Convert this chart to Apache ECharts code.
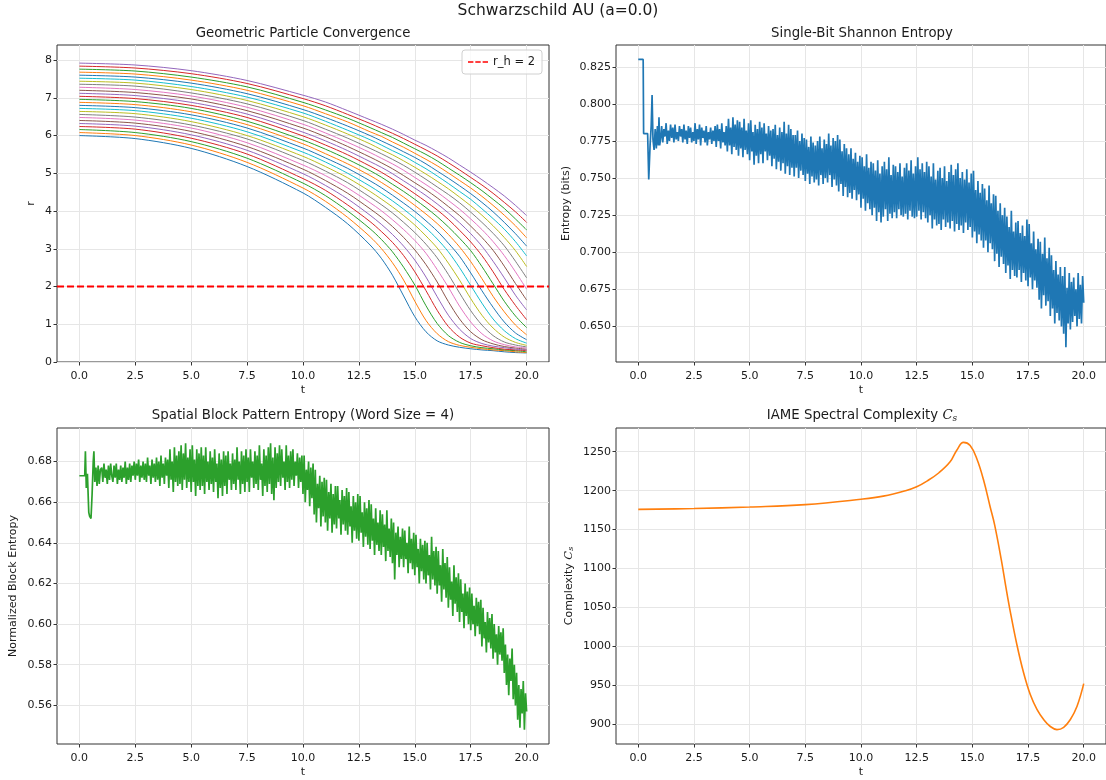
<!DOCTYPE html>
<html>
<head>
<meta charset="utf-8">
<title>Schwarzschild AU (a=0.0)</title>
<script src="https://cdn.jsdelivr.net/npm/echarts@6/dist/echarts.min.js"></script>
<style>
html, body { margin: 0; padding: 0; background: #fff; }
#main { width: 1106px; height: 780px; }
</style>
</head>
<body>
<div id="main"></div>
<script>
//////////// data ////////////
// sample times of the particle curves
var tGrid = [0, 2.5, 5, 7.5, 10, 11, 12, 13, 13.5, 14, 14.5, 15, 15.5, 16, 16.5, 17, 17.5, 18, 18.5, 19, 19.5, 20];

// r(t) for the 25 particles (r0 = 6.00 .. 7.92)
var particleR = [
	[6.00,5.92,5.66,5.18,4.48,4.10,3.66,3.10,2.75,2.30,1.75,1.20,0.80,0.56,0.45,0.39,0.35,0.32,0.30,0.27,0.25,0.24],
	[6.08,6.00,5.75,5.29,4.61,4.26,3.83,3.32,3.01,2.63,2.17,1.61,1.10,0.75,0.54,0.44,0.39,0.35,0.32,0.30,0.27,0.25],
	[6.16,6.08,5.84,5.40,4.74,4.41,4.00,3.53,3.25,2.92,2.51,2.04,1.49,1.02,0.70,0.52,0.43,0.38,0.35,0.32,0.30,0.27],
	[6.24,6.17,5.93,5.51,4.86,4.55,4.16,3.72,3.46,3.17,2.82,2.39,1.89,1.37,0.94,0.66,0.50,0.43,0.38,0.34,0.32,0.30],
	[6.32,6.25,6.02,5.61,4.99,4.68,4.32,3.89,3.65,3.38,3.07,2.70,2.25,1.73,1.24,0.87,0.62,0.49,0.42,0.38,0.34,0.32],
	[6.40,6.33,6.11,5.71,5.11,4.81,4.47,4.06,3.84,3.59,3.30,2.97,2.58,2.12,1.60,1.14,0.80,0.59,0.48,0.41,0.37,0.34],
	[6.48,6.41,6.20,5.81,5.22,4.94,4.61,4.22,4.01,3.77,3.51,3.22,2.88,2.45,1.98,1.48,1.06,0.75,0.56,0.46,0.40,0.37],
	[6.56,6.49,6.28,5.91,5.34,5.06,4.75,4.37,4.17,3.95,3.70,3.43,3.12,2.76,2.32,1.83,1.36,0.98,0.70,0.53,0.45,0.40],
	[6.64,6.58,6.37,6.00,5.45,5.18,4.88,4.52,4.32,4.11,3.88,3.63,3.34,3.02,2.62,2.17,1.68,1.24,0.90,0.66,0.52,0.44],
	[6.72,6.66,6.46,6.10,5.56,5.30,5.00,4.66,4.47,4.27,4.05,3.81,3.55,3.26,2.92,2.50,2.03,1.56,1.14,0.83,0.62,0.50],
	[6.80,6.74,6.55,6.20,5.67,5.41,5.13,4.80,4.62,4.42,4.21,3.99,3.74,3.47,3.15,2.80,2.36,1.89,1.45,1.06,0.77,0.59],
	[6.88,6.82,6.63,6.29,5.78,5.52,5.25,4.94,4.76,4.57,4.37,4.15,3.92,3.67,3.38,3.05,2.66,2.21,1.74,1.33,0.98,0.72],
	[6.96,6.90,6.72,6.38,5.88,5.64,5.37,5.07,4.90,4.71,4.52,4.31,4.09,3.85,3.58,3.28,2.95,2.53,2.07,1.61,1.22,0.91],
	[7.04,6.98,6.80,6.48,5.99,5.75,5.49,5.19,5.03,4.85,4.66,4.46,4.25,4.03,3.78,3.49,3.18,2.82,2.39,1.92,1.50,1.12],
	[7.12,7.06,6.88,6.57,6.09,5.86,5.60,5.31,5.16,4.99,4.80,4.61,4.41,4.19,3.95,3.69,3.40,3.07,2.67,2.23,1.77,1.38],
	[7.20,7.14,6.97,6.66,6.20,5.97,5.71,5.43,5.28,5.12,4.94,4.75,4.56,4.35,4.12,3.88,3.60,3.30,2.96,2.54,2.08,1.64],
	[7.28,7.22,7.05,6.75,6.30,6.07,5.82,5.55,5.40,5.25,5.08,4.89,4.70,4.50,4.28,4.05,3.79,3.51,3.19,2.82,2.39,1.93],
	[7.36,7.31,7.13,6.84,6.40,6.17,5.93,5.66,5.52,5.37,5.21,5.03,4.84,4.64,4.44,4.22,3.97,3.70,3.41,3.08,2.67,2.23],
	[7.44,7.39,7.22,6.93,6.50,6.28,6.04,5.78,5.63,5.49,5.33,5.16,4.98,4.79,4.59,4.37,4.14,3.89,3.61,3.30,2.95,2.53],
	[7.52,7.47,7.30,7.02,6.60,6.38,6.14,5.89,5.75,5.60,5.46,5.29,5.12,4.93,4.73,4.52,4.31,4.06,3.80,3.52,3.19,2.81],
	[7.60,7.55,7.39,7.11,6.69,6.48,6.25,6.00,5.86,5.72,5.57,5.42,5.25,5.06,4.87,4.67,4.46,4.23,3.98,3.70,3.40,3.07],
	[7.68,7.63,7.47,7.20,6.79,6.58,6.36,6.10,5.98,5.83,5.69,5.53,5.37,5.20,5.01,4.81,4.61,4.39,4.15,3.89,3.61,3.29],
	[7.76,7.71,7.55,7.29,6.88,6.68,6.46,6.21,6.08,5.95,5.80,5.65,5.50,5.33,5.14,4.95,4.75,4.54,4.31,4.07,3.79,3.50],
	[7.84,7.79,7.64,7.38,6.98,6.79,6.56,6.32,6.19,6.06,5.92,5.77,5.62,5.46,5.28,5.09,4.89,4.69,4.47,4.23,3.98,3.70],
	[7.92,7.87,7.72,7.46,7.07,6.89,6.66,6.42,6.30,6.17,6.03,5.88,5.74,5.58,5.41,5.22,5.03,4.83,4.62,4.40,4.15,3.88]
];
var horizonR = 2;

// single bit entropy: first part at its own times, then one value every 0.05 from t = 1.0
var entropyHead = [[0,0.830],[0.22,0.830],[0.24,0.780],[0.42,0.780],[0.47,0.749],[0.53,0.772],[0.58,0.785],[0.62,0.806],
	[0.66,0.776],[0.71,0.769],[0.76,0.783],[0.81,0.770],[0.86,0.785],[0.90,0.772],[0.93,0.791],[0.96,0.772]];
var entropyFrom = 1.0;
var entropyStep = 0.05;
var entropyBody = [
	0.776,0.785,0.774,0.783,0.778,0.787,0.773,0.782,0.775,0.786,
	0.777,0.784,0.774,0.786,0.776,0.781,0.775,0.785,0.778,0.783,
	0.774,0.786,0.776,0.782,0.773,0.785,0.777,0.784,0.774,0.781,
	0.775,0.787,0.773,0.783,0.776,0.786,0.772,0.784,0.777,0.782,
	0.774,0.785,0.772,0.781,0.776,0.784,0.773,0.782,0.775,0.785,
	0.771,0.786,0.775,0.783,0.770,0.787,0.774,0.781,0.772,0.785,
	0.768,0.790,0.772,0.784,0.766,0.791,0.771,0.786,0.769,0.789,
	0.765,0.788,0.770,0.784,0.764,0.790,0.769,0.782,0.766,0.787,
	0.762,0.789,0.768,0.781,0.759,0.786,0.765,0.783,0.760,0.788,
	0.766,0.784,0.760,0.787,0.768,0.780,0.762,0.785,0.765,0.782,
	0.758,0.783,0.763,0.786,0.756,0.779,0.761,0.784,0.755,0.781,
	0.760,0.788,0.753,0.780,0.758,0.786,0.752,0.783,0.757,0.779,
	0.751,0.779,0.757,0.782,0.750,0.775,0.755,0.780,0.752,0.777,
	0.748,0.776,0.753,0.771,0.746,0.778,0.751,0.774,0.747,0.772,
	0.749,0.775,0.745,0.778,0.752,0.770,0.746,0.776,0.750,0.773,
	0.747,0.780,0.752,0.772,0.744,0.777,0.749,0.775,0.745,0.779,
	0.741,0.776,0.746,0.768,0.738,0.773,0.744,0.770,0.737,0.766,
	0.740,0.770,0.736,0.763,0.742,0.767,0.735,0.761,0.739,0.765,
	0.730,0.764,0.736,0.758,0.728,0.766,0.733,0.757,0.729,0.761,
	0.725,0.760,0.730,0.755,0.721,0.762,0.727,0.753,0.720,0.758,
	0.724,0.761,0.729,0.756,0.721,0.764,0.726,0.752,0.723,0.759,
	0.727,0.758,0.723,0.754,0.729,0.760,0.725,0.751,0.724,0.757,
	0.726,0.760,0.722,0.755,0.728,0.762,0.724,0.753,0.723,0.758,
	0.724,0.764,0.728,0.756,0.722,0.760,0.727,0.754,0.723,0.761,
	0.720,0.758,0.725,0.751,0.716,0.760,0.722,0.749,0.718,0.755,
	0.719,0.757,0.715,0.750,0.722,0.758,0.717,0.748,0.720,0.754,
	0.716,0.759,0.721,0.752,0.714,0.756,0.719,0.760,0.715,0.750,
	0.718,0.754,0.713,0.749,0.720,0.756,0.715,0.747,0.717,0.753,
	0.710,0.755,0.714,0.742,0.706,0.748,0.712,0.740,0.708,0.746,
	0.703,0.743,0.708,0.735,0.700,0.745,0.706,0.733,0.702,0.739,
	0.694,0.738,0.699,0.728,0.690,0.733,0.697,0.725,0.692,0.730,
	0.686,0.724,0.691,0.717,0.682,0.728,0.688,0.714,0.684,0.720,
	0.683,0.721,0.688,0.713,0.680,0.718,0.686,0.711,0.681,0.722,
	0.677,0.719,0.683,0.706,0.675,0.714,0.681,0.702,0.676,0.709,
	0.668,0.707,0.662,0.699,0.671,0.710,0.664,0.696,0.667,0.703,
	0.657,0.698,0.662,0.688,0.652,0.694,0.659,0.685,0.654,0.690,
	0.650,0.684,0.645,0.690,0.636,0.676,0.652,0.686,0.648,0.680,
	0.653,0.683,0.657,0.675,0.650,0.686,0.655,0.678,0.652,0.684,
	0.666
];

// block pattern entropy (word size 4), same layout
var blockHead = [[0,0.673],[0.24,0.673],[0.27,0.685],[0.31,0.667],[0.36,0.674],[0.42,0.655],[0.46,0.653],[0.52,0.652],
	[0.57,0.664],[0.62,0.680],[0.65,0.685],[0.69,0.670],[0.74,0.677],[0.79,0.668],[0.84,0.678],[0.89,0.669],[0.94,0.676]];
var blockFrom = 1.0;
var blockStep = 0.05;
var blockBody = [
	0.677,0.670,0.679,0.672,0.676,0.669,0.678,0.671,0.679,0.673,
	0.670,0.678,0.672,0.679,0.669,0.676,0.671,0.678,0.670,0.677,
	0.672,0.680,0.669,0.677,0.671,0.679,0.670,0.678,0.673,0.680,
	0.671,0.679,0.673,0.681,0.670,0.678,0.672,0.680,0.671,0.679,
	0.670,0.682,0.673,0.678,0.669,0.681,0.672,0.679,0.670,0.682,
	0.671,0.680,0.668,0.683,0.672,0.679,0.669,0.682,0.673,0.681,
	0.667,0.686,0.671,0.680,0.665,0.687,0.670,0.683,0.668,0.685,
	0.669,0.688,0.666,0.684,0.671,0.689,0.667,0.682,0.670,0.686,
	0.665,0.688,0.670,0.681,0.663,0.686,0.668,0.684,0.666,0.687,
	0.668,0.683,0.664,0.687,0.670,0.680,0.666,0.685,0.669,0.682,
	0.665,0.686,0.670,0.679,0.662,0.684,0.667,0.681,0.663,0.685,
	0.668,0.683,0.664,0.685,0.671,0.679,0.666,0.684,0.669,0.681,
	0.666,0.687,0.671,0.680,0.664,0.685,0.669,0.683,0.665,0.686,
	0.670,0.682,0.665,0.686,0.672,0.680,0.667,0.685,0.669,0.683,
	0.666,0.688,0.671,0.679,0.663,0.686,0.668,0.683,0.665,0.687,
	0.669,0.689,0.664,0.682,0.661,0.687,0.667,0.684,0.670,0.688,
	0.668,0.686,0.672,0.680,0.666,0.688,0.670,0.683,0.667,0.685,
	0.671,0.686,0.668,0.680,0.673,0.684,0.667,0.682,0.670,0.683,
	0.664,0.683,0.660,0.676,0.666,0.680,0.658,0.677,0.662,0.679,
	0.654,0.676,0.650,0.669,0.657,0.673,0.648,0.670,0.653,0.672,
	0.650,0.671,0.646,0.665,0.652,0.669,0.645,0.664,0.649,0.668,
	0.647,0.668,0.652,0.661,0.644,0.666,0.649,0.663,0.646,0.667,
	0.644,0.665,0.648,0.658,0.640,0.663,0.646,0.660,0.642,0.664,
	0.641,0.663,0.645,0.655,0.638,0.660,0.643,0.657,0.639,0.661,
	0.637,0.659,0.641,0.652,0.634,0.657,0.639,0.650,0.636,0.656,
	0.634,0.654,0.638,0.649,0.631,0.656,0.636,0.647,0.633,0.652,
	0.630,0.650,0.622,0.645,0.634,0.648,0.628,0.643,0.632,0.647,
	0.628,0.646,0.632,0.640,0.625,0.648,0.630,0.642,0.627,0.645,
	0.624,0.644,0.628,0.637,0.620,0.642,0.626,0.639,0.622,0.641,
	0.620,0.640,0.624,0.634,0.617,0.643,0.622,0.636,0.619,0.638,
	0.615,0.636,0.619,0.629,0.611,0.637,0.617,0.630,0.613,0.633,
	0.608,0.628,0.612,0.621,0.604,0.629,0.610,0.623,0.606,0.625,
	0.601,0.622,0.606,0.615,0.598,0.620,0.604,0.616,0.600,0.618,
	0.597,0.615,0.600,0.609,0.594,0.613,0.599,0.611,0.595,0.612,
	0.589,0.608,0.593,0.601,0.586,0.606,0.591,0.603,0.588,0.605,
	0.583,0.600,0.586,0.595,0.580,0.599,0.585,0.596,0.582,0.598,
	0.576,0.590,0.570,0.585,0.565,0.583,0.572,0.588,0.563,0.580,
	0.560,0.576,0.553,0.570,0.549,0.568,0.556,0.572,0.548,0.566,
	0.557
];

// spectral complexity
var cxT = [0, 2.5, 5, 7.5, 10, 11, 12, 12.5, 13, 13.5, 14, 14.3, 14.6, 14.9, 15.2, 15.5, 15.8, 16, 16.3, 16.5, 16.7, 17, 17.3, 17.6, 17.9, 18.2, 18.5, 18.8, 19.1, 19.4, 19.7, 20];
var cxVal = [1176, 1177, 1179, 1182, 1189, 1193, 1200, 1205, 1213, 1223, 1237, 1252, 1262, 1258, 1241, 1214, 1179, 1156, 1111, 1077, 1045, 1002, 966, 938, 919, 906, 897, 893, 896, 906, 923, 952];

// ticks
var tTicks = [0, 2.5, 5, 7.5, 10, 12.5, 15, 17.5, 20];
var rTicks = [0, 1, 2, 3, 4, 5, 6, 7, 8];
var entTicks = [0.650, 0.675, 0.700, 0.725, 0.750, 0.775, 0.800, 0.825];
var blockTicks = [0.56, 0.58, 0.60, 0.62, 0.64, 0.66, 0.68];
var cxTicks = [900, 950, 1000, 1050, 1100, 1150, 1200, 1250];

var tab10 = ['#1f77b4', '#ff7f0e', '#2ca02c', '#d62728', '#9467bd', '#8c564b', '#e377c2', '#7f7f7f', '#bcbd22', '#17becf'];

//////////// helpers ////////////
function zip(xs, ys) {
	var out = [];
	for (var i = 0; i < xs.length; i++) out.push([xs[i], ys[i]]);
	return out;
}

// head points plus evenly sampled body
function sampled(head, from, step, body) {
	var out = head.slice();
	for (var i = 0; i < body.length; i++) {
		out.push([+(from + i * step).toFixed(3), body[i]]);
	}
	return out;
}

var FONT = 'DejaVu Sans';
var INK = '#1a1a1a';
var SPINE = '#333';
var FS = 11;

function xAxisFor(idx) {
	return {
		type: 'value', gridIndex: idx, min: -1, max: 21,
		name: 't', nameLocation: 'middle', nameGap: 23,
		nameTextStyle: { fontSize: FS, color: INK, fontFamily: FONT },
		axisLine: { show: false, onZero: false },
		axisTick: { show: true, customValues: tTicks, length: 3.5, lineStyle: { color: SPINE, width: 1 } },
		axisLabel: { customValues: tTicks, fontSize: FS, color: INK, fontFamily: FONT, margin: 9,
			formatter: function(v) { return v.toFixed(1); } },
		splitLine: { show: true, lineStyle: { color: '#e6e6e6', width: 1 } }
	};
}

function yAxisFor(idx, min, max, ticks, digits, name, gap, rich) {
	return {
		type: 'value', gridIndex: idx, min: min, max: max,
		name: name, nameLocation: 'middle', nameGap: gap, nameRotate: 90,
		nameTextStyle: { fontSize: FS, color: INK, fontFamily: FONT, rich: rich || {} },
		axisLine: { show: false, onZero: false },
		axisTick: { show: true, customValues: ticks, length: 3.5, lineStyle: { color: SPINE, width: 1 } },
		axisLabel: { customValues: ticks, fontSize: FS, color: INK, fontFamily: FONT, margin: 5,
			formatter: function(v) { return v.toFixed(digits); } },
		splitLine: { show: true, lineStyle: { color: '#e6e6e6', width: 1 } }
	};
}

var calC = {
	c: { fontFamily: 'DejaVu Serif', fontStyle: 'italic', fontSize: 11.5, color: INK },
	s: { fontFamily: 'DejaVu Serif', fontStyle: 'italic', fontSize: 8, color: INK, verticalAlign: 'bottom', padding: [4, 0, 0, 0] }
};

//////////// chart ////////////
function showAll() {
	var chart = echarts.init(document.getElementById('main'), null, { renderer: 'canvas' });

	var series = [];
	for (var k = 0; k < particleR.length; k++) {
		series.push({
			name: 'p' + k,
			type: 'line', xAxisIndex: 0, yAxisIndex: 0,
			data: zip(tGrid, particleR[k]),
			smooth: 0.3, symbol: 'none',
			lineStyle: { color: tab10[k % 10], width: 1 },
			itemStyle: { color: tab10[k % 10] },
			silent: true
		});
	}
	series.push({
		name: 'r_h = 2',
		type: 'line', xAxisIndex: 0, yAxisIndex: 0,
		data: [[-1, horizonR], [21, horizonR]],
		symbol: 'none',
		lineStyle: { color: '#ff0000', width: 2, type: [7, 3] },
		itemStyle: { color: '#ff0000' }
	});
	series.push({
		name: 'entropy', type: 'line', xAxisIndex: 1, yAxisIndex: 1,
		data: sampled(entropyHead, entropyFrom, entropyStep, entropyBody),
		symbol: 'none', lineStyle: { color: '#1f77b4', width: 1.7 }
	});
	series.push({
		name: 'block', type: 'line', xAxisIndex: 2, yAxisIndex: 2,
		data: sampled(blockHead, blockFrom, blockStep, blockBody),
		symbol: 'none', lineStyle: { color: '#2ca02c', width: 1.7 }
	});
	series.push({
		name: 'complexity', type: 'line', xAxisIndex: 3, yAxisIndex: 3,
		data: zip(cxT, cxVal),
		smooth: 0.4, symbol: 'none', lineStyle: { color: '#ff7f0e', width: 1.6 }
	});

	var gridBox = { show: true, borderColor: SPINE, borderWidth: 1, backgroundColor: 'transparent' };

	var option = {
		animation: false,
		backgroundColor: '#fff',
		textStyle: { fontFamily: FONT },
		grid: [
			Object.assign({ left: 57, top: 45, width: 492, height: 317 }, gridBox),
			Object.assign({ left: 616, top: 45, width: 492, height: 317 }, gridBox),
			Object.assign({ left: 57, top: 428, width: 492, height: 316 }, gridBox),
			Object.assign({ left: 616, top: 428, width: 492, height: 316 }, gridBox)
		],
		xAxis: [xAxisFor(0), xAxisFor(1), xAxisFor(2), xAxisFor(3)],
		yAxis: [
			yAxisFor(0, 0, 8.4, rTicks, 0, 'r', 20),
			yAxisFor(1, 0.626, 0.8397, entTicks, 3, 'Entropy (bits)', 44),
			yAxisFor(2, 0.541, 0.6965, blockTicks, 2, 'Normalized Block Entropy', 38),
			yAxisFor(3, 874.5, 1280.5, cxTicks, 0, 'Complexity {c|C}{s|s}', 41, calC)
		],
		legend: {
			data: ['r_h = 2'],
			left: 462, top: 50,
			// three dashes, like the dashed line sample
			icon: 'path://M0,0H7V2H0Z M9.5,0H16.5V2H9.5Z M19,0H26V2H19Z',
			itemWidth: 20, itemHeight: 2, itemGap: 0,
			padding: [6, 7, 6, 6],
			borderColor: '#d0d0d0', borderWidth: 1, borderRadius: 3,
			backgroundColor: 'rgba(255,255,255,0.8)',
			textStyle: { fontSize: 11.5, color: INK, fontFamily: FONT },
			selectedMode: false
		},
		graphic: [
			{ type: 'text', x: 558, y: 11, style: { text: 'Schwarzschild AU (a=0.0)', fill: INK,
				font: '15.5px "DejaVu Sans"', align: 'center', verticalAlign: 'middle' } },
			{ type: 'text', x: 303, y: 34, style: { text: 'Geometric Particle Convergence', fill: INK,
				font: '13.3px "DejaVu Sans"', align: 'center', verticalAlign: 'middle' } },
			{ type: 'text', x: 862, y: 34, style: { text: 'Single-Bit Shannon Entropy', fill: INK,
				font: '13.3px "DejaVu Sans"', align: 'center', verticalAlign: 'middle' } },
			{ type: 'text', x: 303, y: 416, style: { text: 'Spatial Block Pattern Entropy (Word Size = 4)', fill: INK,
				font: '13.3px "DejaVu Sans"', align: 'center', verticalAlign: 'middle' } },
			{ type: 'text', x: 862, y: 416, style: { text: 'IAME Spectral Complexity {c|C}{s|s}', fill: INK,
				font: '13.3px "DejaVu Sans"', align: 'center', verticalAlign: 'middle',
				rich: {
					c: { fontFamily: 'DejaVu Serif', fontStyle: 'italic', fontSize: 13.3, fill: INK },
					s: { fontFamily: 'DejaVu Serif', fontStyle: 'italic', fontSize: 9, fill: INK, verticalAlign: 'bottom', padding: [5, 0, 0, 0] }
				} } }
		],
		series: series
	};

	chart.setOption(option);
}

showAll();
</script>
</body>
</html>
